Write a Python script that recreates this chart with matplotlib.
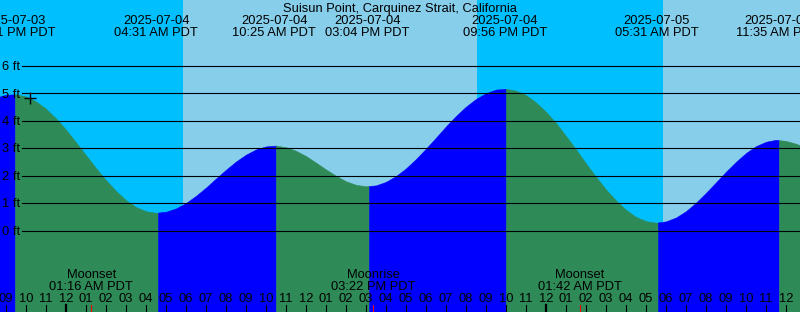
import numpy as np
import matplotlib
matplotlib.use('Agg')
import matplotlib.pyplot as plt
from matplotlib.transforms import blended_transform_factory
from datetime import datetime

title = 'Suisun Point, Carquinez Strait, California'
day0 = datetime(2025, 7, 4)

# tide curve, every half hour (hours from 2025-07-04 00:00, feet)
hours = np.arange(-3.5, 37.01, 0.5)
heights = [4.85, 4.95, 4.97, 4.89, 4.71, 4.44, 4.09,
           3.68, 3.22, 2.75, 2.28, 1.84, 1.45, 1.11, 0.86, 0.71, 0.65,
           0.69, 0.81, 1.01, 1.27, 1.57, 1.90, 2.22, 2.52, 2.77, 2.96, 3.07,
           3.10, 3.04, 2.91, 2.72, 2.48, 2.23, 2.00, 1.80, 1.67, 1.62,
           1.65, 1.78, 1.99, 2.27, 2.61, 2.99, 3.39, 3.80, 4.18, 4.52, 4.80,
           5.01, 5.14, 5.17, 5.10, 4.94, 4.67, 4.33, 3.92, 3.45, 2.96, 2.45,
           1.96, 1.50, 1.10, 0.76, 0.50, 0.35, 0.29, 0.34, 0.48, 0.71, 1.02,
           1.38, 1.76, 2.15, 2.51, 2.83, 3.08, 3.24, 3.31, 3.27, 3.17, 3.02]
heights = np.array(heights)

# high / low tide labels
tide_dates = ['2025-07-03', '2025-07-04', '2025-07-04', '2025-07-04',
              '2025-07-04', '2025-07-05', '2025-07-05']
tide_times = ['09:21 PM', '04:31 AM', '10:25 AM', '03:04 PM',
              '09:56 PM', '05:31 AM', '11:35 AM']
# turning points of the curve as seen in the fill colours
turn_hours = [-2.55, 4.6, 10.5, 15.15, 22.0, 29.6, 35.65]

moon_names = ['Moonset', 'Moonrise', 'Moonset']
moon_dates = ['2025-07-04', '2025-07-04', '2025-07-05']
moon_times = ['01:16 AM', '03:22 PM', '01:42 AM']

# sunrise / sunset
sun_dates = ['2025-07-04', '2025-07-04', '2025-07-05']
sun_times = ['05:51 AM', '08:33 PM', '05:51 AM']

now_hour = -1.8
now_height = 4.83

ft_levels = [0, 1, 2, 3, 4, 5, 6]
hour_ticks = list(range(-3, 37))

night_color = '#00BFFF'
day_color = '#87CEEB'
rise_color = '#0000FF'
fall_color = '#2E8B57'


def to_hours(d, t):
    dt = datetime.strptime(d + ' ' + t, '%Y-%m-%d %I:%M %p')
    return (dt - day0).total_seconds() / 3600.0


plt.rcParams['font.family'] = ['Liberation Sans', 'DejaVu Sans']
plt.rcParams['font.size'] = 9.3

fig = plt.figure(figsize=(8, 3.12), dpi=100)
ax = fig.add_axes([0, 0, 1, 1])
x0, x1 = -3.3, 36.7
y0, y1 = -2.962, 8.404
ax.set_xlim(x0, x1)
ax.set_ylim(y0, y1)
ax.axis('off')
bt = blended_transform_factory(ax.transData, ax.transAxes)

# sky: night / day
sun_hours = [to_hours(d, t) for d, t in zip(sun_dates, sun_times)]
sky_edges = [x0] + sun_hours + [x1]
for i in range(len(sky_edges) - 1):
    c = night_color if i % 2 == 0 else day_color
    ax.axvspan(sky_edges[i], sky_edges[i + 1], color=c, lw=0, zorder=0)

# water: blue while rising, green while falling
edges = [hours[0]] + turn_hours + [hours[-1]]
for i in range(len(edges) - 1):
    a, b = edges[i], edges[i + 1]
    inside = (hours > a) & (hours < b)
    xs = np.concatenate([[a], hours[inside], [b]])
    ys = np.interp(xs, hours, heights)
    c = rise_color if i % 2 == 0 else fall_color
    ax.fill_between(xs, y0, ys, color=c, ec=c, lw=0.4, zorder=1)

# horizontal foot lines
for lv in ft_levels:
    ax.axhline(lv, xmin=22 / 800, xmax=1, color='black', lw=0.8, zorder=2)
    ax.text(x0 + 0.12, lv - 0.15, '%d ft' % lv, ha='left', va='baseline', zorder=3)

ax.plot([now_hour], [now_height], marker='+', color='black', ms=8, mew=1, zorder=4)

ax.text(0.5, 1 - 12 / 312, title, transform=ax.transAxes, ha='center', va='baseline')
for d, t in zip(tide_dates, tide_times):
    h = to_hours(d, t)
    ax.text(h, 1 - 24 / 312, d, transform=bt, ha='center', va='baseline', zorder=5)
    ax.text(h, 1 - 36 / 312, t + ' PDT', transform=bt, ha='center', va='baseline', zorder=5)

# hour ticks along the bottom
for h in hour_ticks:
    hod = h % 24
    lab = '%02d' % ((hod - 1) % 12 + 1)
    ax.text(h, 1 - 302 / 312, lab, transform=bt, ha='center', va='baseline', zorder=5)
    w = 1.6 if hod == 0 else 0.8
    ax.axvline(h, ymin=0, ymax=7 / 312, color='black', lw=w, zorder=5)

for n, d, t in zip(moon_names, moon_dates, moon_times):
    h = to_hours(d, t)
    ax.text(h, 1 - 278 / 312, n, transform=bt, ha='center', va='baseline', zorder=5)
    ax.text(h, 1 - 290 / 312, t + ' PDT', transform=bt, ha='center', va='baseline', zorder=5)
    ax.axvline(h, ymin=0, ymax=7 / 312, color='red', lw=0.8, zorder=5)

fig.savefig('out.png', dpi=100)
